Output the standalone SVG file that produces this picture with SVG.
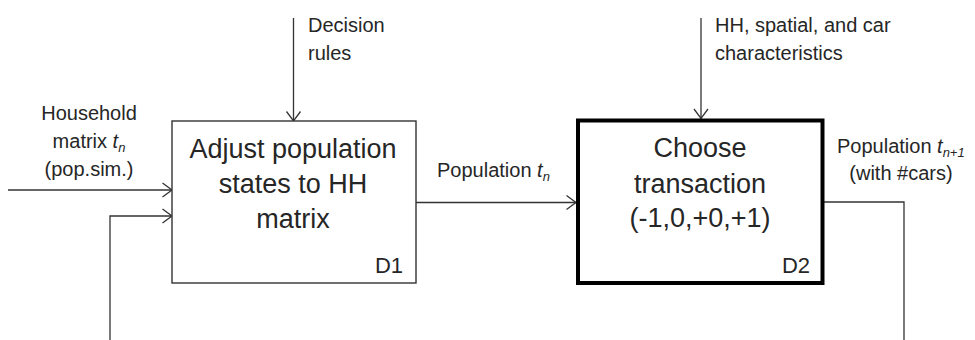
<svg xmlns="http://www.w3.org/2000/svg" width="975" height="340" viewBox="0 0 975 340">
<style>
  text { font-family: "Liberation Sans", Arial, sans-serif; fill: #262626; }
  .lbl { font-size: 20px; }
  .box-t { font-size: 27px; text-anchor: middle; }
  .id { font-size: 22px; text-anchor: end; }
  .it { font-style: italic; }
  .sub { font-size: 13px; font-style: italic; }
  .conn { fill: none; stroke: #333; stroke-width: 1.3; }
</style>
<defs>
  <marker id="arr" markerUnits="userSpaceOnUse" markerWidth="14" markerHeight="18" refX="11" refY="8" orient="auto">
    <path d="M1.5,1 L11,8 L1.5,15" fill="none" stroke="#333" stroke-width="1.3"/>
  </marker>
</defs>
<rect width="975" height="340" fill="#fff"/>

<g id="connectors">
  <line class="conn" x1="8" y1="190" x2="172" y2="190" marker-end="url(#arr)"/>
  <polyline class="conn" points="110,340 110,216 172,216" marker-end="url(#arr)"/>
  <line class="conn" x1="293.5" y1="18" x2="293.5" y2="121" marker-end="url(#arr)"/>
  <line class="conn" x1="416" y1="202.5" x2="576" y2="202.5" marker-end="url(#arr)"/>
  <line class="conn" x1="701" y1="18" x2="701" y2="118.5" marker-end="url(#arr)"/>
  <polyline class="conn" points="824,202 904,202 904,340"/>
</g>

<g id="label-household">
  <text class="lbl" x="89" y="120" text-anchor="middle">Household</text>
  <text class="lbl" x="89" y="148" text-anchor="middle">matrix <tspan class="it">t</tspan><tspan class="sub" dy="4">n</tspan></text>
  <text class="lbl" x="89" y="176" text-anchor="middle">(pop.sim.)</text>
</g>

<g id="label-decision">
  <text class="lbl" x="308" y="32">Decision</text>
  <text class="lbl" x="308" y="60">rules</text>
</g>

<g id="D1">
  <rect x="172" y="121" width="244" height="162" fill="#fff" stroke="#333" stroke-width="1.4"/>
  <text class="box-t" x="293" y="158">Adjust population</text>
  <text class="box-t" x="293" y="193">states to HH</text>
  <text class="box-t" x="293" y="228">matrix</text>
  <text class="id" x="403" y="273">D1</text>
</g>

<g id="label-population-tn">
  <text class="lbl" x="437" y="177">Population <tspan class="it">t</tspan><tspan class="sub" dy="4">n</tspan></text>
</g>

<g id="label-hh">
  <text class="lbl" x="715" y="32">HH, spatial, and car</text>
  <text class="lbl" x="715" y="60">characteristics</text>
</g>

<g id="D2">
  <rect x="578" y="120.5" width="244.5" height="162.5" fill="#fff" stroke="#000" stroke-width="4"/>
  <text class="box-t" x="700" y="157">Choose</text>
  <text class="box-t" x="700" y="193">transaction</text>
  <text class="box-t" x="700" y="227">(-1,0,+0,+1)</text>
  <text class="id" x="810" y="273">D2</text>
</g>

<g id="label-population-tn1">
  <text class="lbl" x="837" y="153">Population <tspan class="it">t</tspan><tspan class="sub" dy="4">n+1</tspan></text>
  <text class="lbl" x="901" y="180" text-anchor="middle">(with #cars)</text>
</g>
</svg>
